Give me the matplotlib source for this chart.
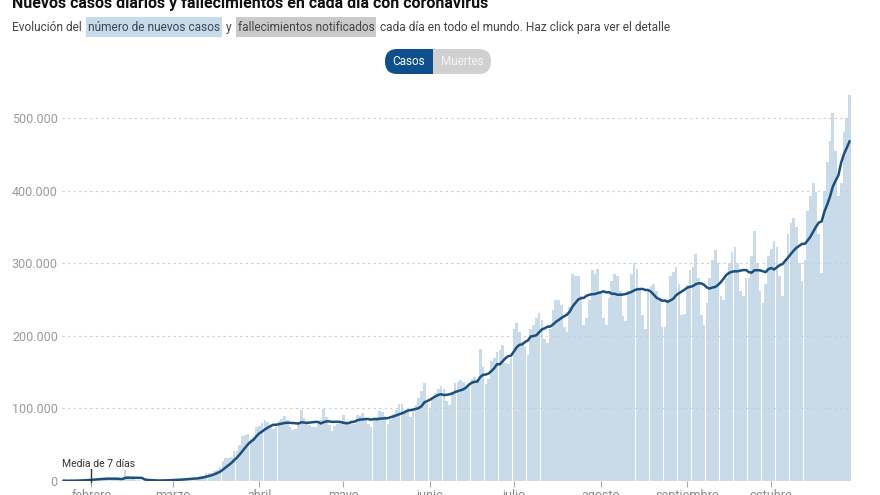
import matplotlib
matplotlib.use("Agg")
import matplotlib.pyplot as plt
from matplotlib.patches import FancyBboxPatch, Rectangle
import numpy as np
import pandas as pd

plt.rcParams['font.family'] = ['Roboto', 'DejaVu Sans']

# casos diarios notificados en el mundo (miles), desde el 22 de enero de 2020
casos_ene = [0.6, 0.1, 0.3, 0.5, 0.7, 0.8, 1.8, 1.5, 1.7, 2.1]
casos_feb = [2.6, 2.8, 3.2, 3.9, 3.7, 3.2, 3.4, 2.7, 3.0, 2.5, 2.1, 0.4, 15.1, 6.4, 2.1,
             2.1, 2.0, 1.9, 0.5, 0.6, 1.0, 0.7, 0.4, 0.6, 0.8, 0.9, 1.2, 1.4, 1.7]
casos_mar = [1.9, 2.0, 2.5, 2.3, 2.8, 3.9, 4.0, 4.0, 3.9, 4.5, 7.0, 7.2, 10.8, 10.9, 11.0,
             14.0, 15.8, 19.0, 28.0, 31.0, 32.0, 33.0, 41.0, 41.0, 49, 62, 64, 65, 58, 60, 74]
casos_abr = [76, 80, 84, 81, 75, 72, 74, 82, 86, 89, 84, 74, 70, 72, 79,
             98, 87, 80, 77, 74, 75, 78, 84, 99, 88, 77, 69, 76, 78, 83]
casos_may = [91, 83, 79, 80, 78, 91, 90, 93, 87, 78, 74, 85, 88, 96, 95, 89,
             79, 84, 92, 98, 106, 106, 98, 95, 88, 97, 105, 114, 124, 135, 108]
casos_jun = [100, 115, 121, 127, 131, 127, 110, 105, 123, 135, 136, 139, 136, 130, 131,
             141, 143, 140, 182, 157, 133, 141, 165, 170, 178, 181, 187, 162, 161, 170]
casos_jul = [210, 218, 205, 192, 185, 174, 209, 215, 225, 232, 222, 195, 190, 210, 235, 250,
             250, 242, 212, 205, 240, 285, 283, 283, 255, 215, 225, 250, 290, 285, 292]
casos_ago = [262, 225, 215, 252, 275, 285, 282, 262, 227, 220, 262, 285, 300, 292, 265, 228,
             210, 262, 268, 272, 262, 252, 212, 212, 250, 282, 288, 295, 272, 228, 230]
casos_sep = [270, 290, 295, 313, 280, 228, 215, 245, 280, 305, 318, 300, 255, 250, 280,
             300, 315, 322, 300, 262, 255, 280, 280, 310, 345, 300, 262, 245, 272, 310]
casos_oct = [320, 330, 322, 282, 255, 305, 340, 355, 362, 350, 300, 275, 305, 372, 392,
             410, 398, 340, 286, 400, 440, 468, 507, 455, 392, 410, 481, 500, 532]

meses = ["febrero", "marzo", "abril", "mayo", "junio", "julio", "agosto", "septiembre", "octubre"]
inicio_meses = ["2020-02-01", "2020-03-01", "2020-04-01", "2020-05-01", "2020-06-01",
                "2020-07-01", "2020-08-01", "2020-09-01", "2020-10-01"]
y_ticks = [0, 100000, 200000, 300000, 400000, 500000]
y_labels = ["0", "100.000", "200.000", "300.000", "400.000", "500.000"]

casos = np.array(casos_ene + casos_feb + casos_mar + casos_abr + casos_may + casos_jun
                 + casos_jul + casos_ago + casos_sep + casos_oct) * 1000
fechas = pd.date_range("2020-01-22", periods=len(casos), freq="D")
media = pd.Series(casos).rolling(7, min_periods=1).mean().values

W, H = 880, 495
fig = plt.figure(figsize=(8.8, 4.95), dpi=100)


def fx(px):
    return px / W


def fy(py):
    return 1 - py / H


ax = fig.add_axes([fx(62), fy(481), fx(851) - fx(62), fy(90) - fy(481)])
ax.bar(fechas, casos, width=0.95, color="#c9dbe8", linewidth=0, zorder=1)
ax.plot(fechas, media, color="#1c4f7d", lw=1.8, zorder=3, solid_capstyle="round")

ax.set_xlim(fechas[0] - pd.Timedelta(hours=12), fechas[-1] + pd.Timedelta(hours=12))
ax.set_ylim(0, 538600)
ax.set_yticks(y_ticks)
ax.set_yticklabels(y_labels)
ax.set_xticks(pd.to_datetime(inicio_meses))
ax.set_xticklabels(meses)
ax.tick_params(axis="y", length=0, pad=3, labelsize=9, labelcolor="#9a9a9a")
ax.tick_params(axis="x", length=4, width=0.8, color="#aaaaaa", pad=2,
               labelsize=9, labelcolor="#888888")
ax.yaxis.grid(True, linestyle=(0, (2, 3)), color="#cccccc", lw=0.8, zorder=2)
ax.set_axisbelow(False)
for s in ax.spines.values():
    s.set_visible(False)

# marca "Media de 7 dias"
feb1 = pd.Timestamp("2020-02-01")
ax.plot([feb1, feb1], [-1500, 16500], color="#333333", lw=1, zorder=4, clip_on=False)
ax.text(fechas[0] - pd.Timedelta(hours=12), 19300, "Media de 7 días", fontsize=7.5,
        color="#333333", va="baseline", ha="left")

# cabecera
ov = fig.add_axes([0, 0, 1, 1])
ov.set_xlim(0, W)
ov.set_ylim(H, 0)
ov.axis("off")
ov.patch.set_visible(False)

ov.text(12, 8, "Nuevos casos diarios y fallecimientos en cada día con coronavirus",
        fontsize=11.5, fontweight="bold", color="#111111", va="baseline")

trozos = [("Evolución del", None),
          ("número de nuevos casos", "#c6dbec"),
          ("y", None),
          ("fallecimientos notificados", "#cacaca"),
          ("cada día en todo el mundo. Haz click para ver el detalle", None)]
fig.canvas.draw()
r = fig.canvas.get_renderer()
x = 12
for i, (txt, fondo) in enumerate(trozos):
    if fondo:
        x += 2
    t = ov.text(x, 31, txt, fontsize=8.6, color="#444444", va="baseline", zorder=3)
    bb = t.get_window_extent(renderer=r)
    if fondo:
        ov.add_patch(Rectangle((x - 2, 17), bb.width + 4, 20, color=fondo, lw=0, zorder=1))
        x += 2
    x += bb.width + 4

# botones
ov.add_patch(FancyBboxPatch((385, 49), 106, 25, boxstyle="round,pad=0,rounding_size=12.5",
                            fc="#d0d0d0", ec="none", zorder=1))
ov.add_patch(FancyBboxPatch((385, 49), 70, 25, boxstyle="round,pad=0,rounding_size=12.5",
                            fc="#0f4f8e", ec="none", zorder=2))
ov.add_patch(Rectangle((433, 49), 40, 25, fc="#d0d0d0", ec="none", zorder=3))
ov.text(409, 61.5, "Casos", fontsize=8.5, color="white", ha="center", va="center", zorder=4)
ov.text(462, 61.5, "Muertes", fontsize=8.5, color="#f5f5f5", ha="center", va="center", zorder=4)

fig.savefig("out.png", dpi=100)
